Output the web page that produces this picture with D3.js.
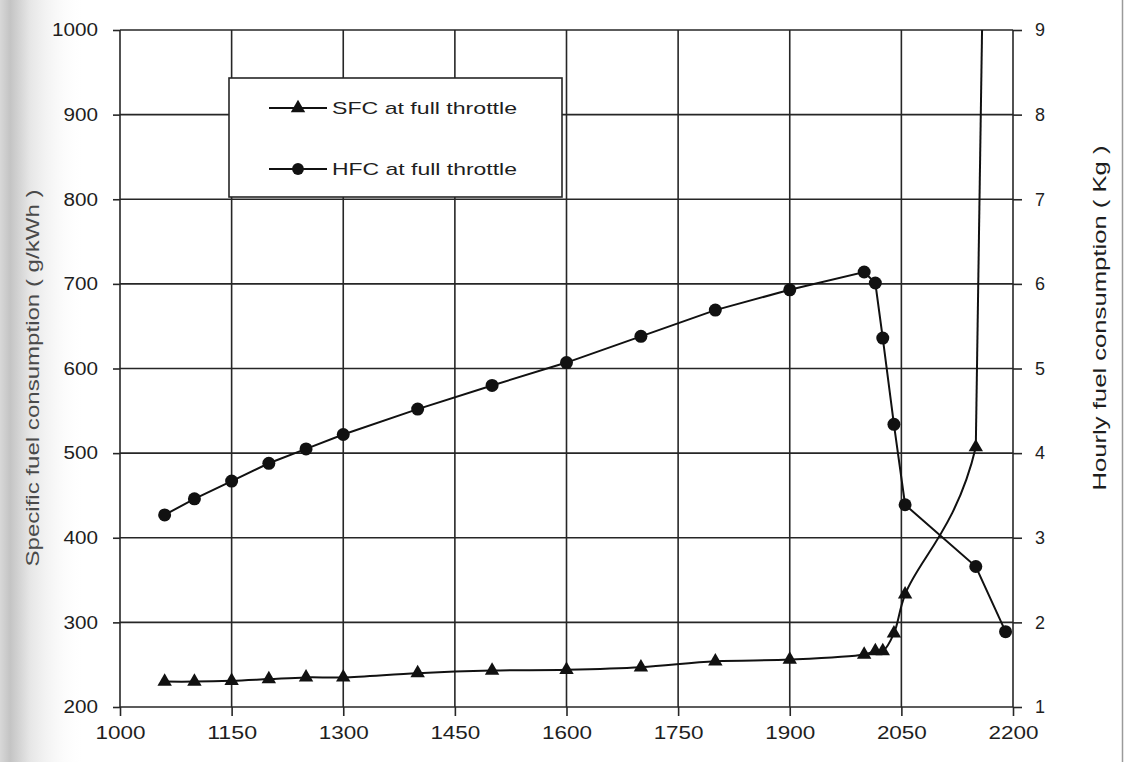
<!DOCTYPE html>
<html>
<head>
<meta charset="utf-8">
<script src="https://d3js.org/d3.v7.min.js"></script>
<style>
  body { margin: 0; background: #fff; }
  text { font-family: "Liberation Sans", Arial, sans-serif; fill: #1e1e1e; }
</style>
</head>
<body>
<div id="chart"></div>
<script>
// engine speed (rpm)
var rpm = [1060, 1100, 1150, 1200, 1250, 1300, 1400, 1500, 1600, 1700, 1800, 1900, 2000, 2015, 2025, 2040, 2055, 2150, 2190]
// specific fuel consumption g/kWh (last one runs off the top)
var sfc = [230, 230, 231, 233, 235, 235, 240, 243, 244, 247, 254, 256, 262, 266, 266, 287, 333, 507, 2850]
// hourly fuel consumption kg
var hfc = [3.27, 3.46, 3.67, 3.88, 4.05, 4.22, 4.52, 4.80, 5.07, 5.38, 5.69, 5.93, 6.14, 6.01, 5.36, 4.34, 3.39, 2.66, 1.89]

var xTicks = [1000, 1150, 1300, 1450, 1600, 1750, 1900, 2050, 2200]
var leftTicks = [200, 300, 400, 500, 600, 700, 800, 900, 1000]
var rightTicks = [1, 2, 3, 4, 5, 6, 7, 8, 9]
var legendLabels = ["SFC at full throttle", "HFC at full throttle"]

var W = 1127, H = 762
var plot = {left: 120, right: 1013, top: 30, bottom: 707}

var svg = d3.select("#chart").append("svg")
    .attr("width", W)
    .attr("height", H)

// scanner shadow on the left edge
var defs = svg.append("defs")
var grad = defs.append("linearGradient").attr("id", "shade").attr("x1", 0).attr("x2", 1)
grad.append("stop").attr("offset", 0).attr("stop-color", "#d8d8d8")
grad.append("stop").attr("offset", 0.12).attr("stop-color", "#c4c4c4")
grad.append("stop").attr("offset", 0.35).attr("stop-color", "#e6e6e6")
grad.append("stop").attr("offset", 1).attr("stop-color", "#fff").attr("stop-opacity", 0)
svg.append("rect").attr("x", 0).attr("y", 0).attr("width", 85).attr("height", H).attr("fill", "url(#shade)")
svg.append("line").attr("x1", 1122.5).attr("x2", 1122.5).attr("y1", 0).attr("y2", H)
    .style("stroke", "#9a9a9a").style("stroke-width", 1.5)

var x = d3.scaleLinear().domain([1000, 2200]).range([plot.left, plot.right])
var yL = d3.scaleLinear().domain([200, 1000]).range([plot.bottom, plot.top])
var yR = d3.scaleLinear().domain([1, 9]).range([plot.bottom, plot.top])

defs.append("clipPath").attr("id", "clip").append("rect")
    .attr("x", plot.left).attr("y", plot.top)
    .attr("width", plot.right - plot.left).attr("height", plot.bottom - plot.top)
// smooth part of SFC stops at the 2150 rpm point, the rest is a straight run off the top
var nLast = rpm.length - 2
defs.append("clipPath").attr("id", "clipLow").append("rect")
    .attr("x", plot.left).attr("y", yL(sfc[nLast]))
    .attr("width", plot.right - plot.left).attr("height", plot.bottom - yL(sfc[nLast]))

// grid
var grid = svg.append("g").style("stroke", "#262626").style("stroke-width", 1.6)
grid.selectAll(".hg").data(leftTicks).enter().append("line")
    .attr("x1", plot.left).attr("x2", plot.right)
    .attr("y1", function(d) { return yL(d) }).attr("y2", function(d) { return yL(d) })
grid.selectAll(".vg").data(xTicks).enter().append("line")
    .attr("x1", function(d) { return x(d) }).attr("x2", function(d) { return x(d) })
    .attr("y1", plot.top).attr("y2", plot.bottom)

function styleAxis(g, digitW) {
  g.select(".domain").remove()
  g.selectAll(".tick line").style("stroke", "#262626").style("stroke-width", 1.6)
  g.selectAll(".tick text")
      .style("font-size", "18px")
      .attr("textLength", function(d) { return String(d).length * digitW })
      .attr("lengthAdjust", "spacingAndGlyphs")
}

svg.append("g").attr("transform", "translate(0," + plot.bottom + ")")
    .call(d3.axisBottom(x).tickValues(xTicks).tickSize(9).tickPadding(10).tickFormat(d3.format("d")))
    .call(styleAxis, 12.5)
svg.append("g").attr("transform", "translate(" + plot.left + ",0)")
    .call(d3.axisLeft(yL).tickValues(leftTicks).tickSize(7).tickPadding(15).tickFormat(d3.format("d")))
    .call(styleAxis, 11.5)
svg.append("g").attr("transform", "translate(" + plot.right + ",0)")
    .call(d3.axisRight(yR).tickValues(rightTicks).tickSize(9).tickPadding(13).tickFormat(d3.format("d")))
    .call(styleAxis, 10)

// axis titles
svg.append("text").text("Specific fuel consumption ( g/kWh )")
    .attr("transform", "translate(39,378) rotate(-90)")
    .attr("text-anchor", "middle")
    .attr("textLength", 377).attr("lengthAdjust", "spacingAndGlyphs")
    .style("font-size", "18px").style("fill", "#4a4a4a")
svg.append("text").text("Hourly fuel consumption ( Kg )")
    .attr("transform", "translate(1106,318) rotate(-90)")
    .attr("text-anchor", "middle")
    .attr("textLength", 345).attr("lengthAdjust", "spacingAndGlyphs")
    .style("font-size", "18px")

// series
var pts = rpm.map(function(r, i) { return {rpm: r, sfc: sfc[i], hfc: hfc[i]} })
var series = svg.append("g").attr("clip-path", "url(#clip)")

series.append("path").datum(pts)
    .attr("clip-path", "url(#clipLow)")
    .attr("d", d3.line().x(function(d) { return x(d.rpm) }).y(function(d) { return yL(d.sfc) })
      .curve(d3.curveCatmullRom.alpha(0.5)))
    .style("fill", "none").style("stroke", "#111").style("stroke-width", 2)
series.append("path").datum(pts.slice(nLast))
    .attr("d", d3.line().x(function(d) { return x(d.rpm) }).y(function(d) { return yL(d.sfc) }))
    .style("fill", "none").style("stroke", "#111").style("stroke-width", 2)

series.append("path").datum(pts)
    .attr("d", d3.line().x(function(d) { return x(d.rpm) }).y(function(d) { return yR(d.hfc) }))
    .style("fill", "none").style("stroke", "#111").style("stroke-width", 2)

var tri = d3.symbol().type(d3.symbolTriangle).size(90)
series.selectAll(".tri").data(pts).enter().append("path")
    .attr("d", tri)
    .attr("transform", function(d) { return "translate(" + x(d.rpm) + "," + yL(d.sfc) + ")" })
    .style("fill", "#111")

series.selectAll(".dot").data(pts).enter().append("circle")
    .attr("cx", function(d) { return x(d.rpm) })
    .attr("cy", function(d) { return yR(d.hfc) })
    .attr("r", 6.5)
    .style("fill", "#111")

// legend
var lg = svg.append("g").attr("transform", "translate(229,78)")
lg.append("rect").attr("width", 333).attr("height", 119)
    .style("fill", "#fff").style("stroke", "#262626").style("stroke-width", 1.6)
var row = lg.selectAll(".row").data(legendLabels).enter().append("g")
    .attr("transform", function(d, i) { return "translate(0," + (30 + i * 61) + ")" })
row.append("line").attr("x1", 40).attr("x2", 98)
    .style("stroke", "#111").style("stroke-width", 2)
row.append("path")
    .attr("d", function(d, i) { return i == 0 ? tri() : d3.symbol().type(d3.symbolCircle).size(110)() })
    .attr("transform", "translate(69,0)")
    .style("fill", "#111")
row.append("text").text(function(d) { return d })
    .attr("x", 103).attr("y", 6)
    .attr("textLength", 185).attr("lengthAdjust", "spacingAndGlyphs")
    .style("font-size", "17px")
</script>
</body>
</html>
